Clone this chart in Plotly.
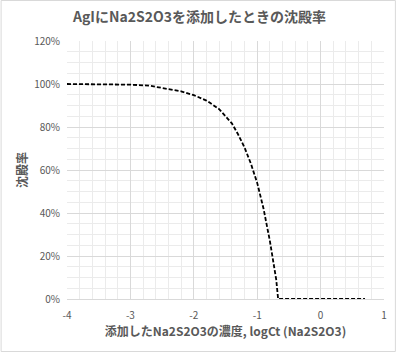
import plotly.graph_objects as go

# Data
log_ct = [-4.0, -3.5, -3.0, -2.7, -2.4, -2.2, -2.0, -1.8, -1.6, -1.4, -1.3, -1.2,
          -1.1, -1.0, -0.9, -0.8, -0.7, -0.67, -0.5, -0.3, -0.1, 0.1, 0.3, 0.5, 0.7]
precip = [1.000, 0.999, 0.997, 0.992, 0.978, 0.966, 0.948, 0.923, 0.883, 0.817, 0.765, 0.705,
          0.630, 0.540, 0.420, 0.270, 0.090, 0.0, 0.0, 0.0, 0.0, 0.0, 0.0, 0.0, 0.0]

x_tick_vals = [-4, -3, -2, -1, 0, 1]
x_tick_text = ["-4", "-3", "-2", "-1", "0", "1"]
y_tick_vals = [0, 0.2, 0.4, 0.6, 0.8, 1.0, 1.2]
y_tick_text = ["0%", "20%", "40%", "60%", "80%", "100%", "120%"]

title_text = "AgIにNa2S2O3を添加したときの沈殿率"
x_title = "添加したNa2S2O3の濃度, logCt (Na2S2O3)"
y_title = "沈殿率"

FONT = "Noto Sans CJK JP"
GRAY = "#595959"

fig = go.Figure()
fig.add_trace(go.Scatter(
    x=log_ct, y=precip, mode="lines",
    line=dict(color="black", width=1.8, dash="4px,2px"),
    hoverinfo="skip", showlegend=False,
))

fig.update_layout(
    width=399, height=352,
    margin=dict(l=67, r=12, t=41, b=53),
    paper_bgcolor="white", plot_bgcolor="white",
    font=dict(family=FONT, color=GRAY, size=10),
    title=dict(text="<b>" + title_text + "</b>", x=0.5, xanchor="center",
               y=1 - 17 / 352, yanchor="middle",
               font=dict(family=FONT, size=14, color=GRAY)),
    showlegend=False,
)

fig.update_xaxes(
    range=[-4, 1], tickvals=x_tick_vals, ticktext=x_tick_text,
    showgrid=True, gridcolor="#d9d9d9", gridwidth=1,
    minor=dict(dtick=0.2, tick0=-4, showgrid=True, gridcolor="#ebebeb", gridwidth=1),
    zeroline=False, showline=True, linecolor="#d9d9d9", linewidth=1, mirror=False,
    ticks="", tickfont=dict(size=10, color=GRAY), ticklabelstandoff=7,
    title=dict(text="<b>" + x_title + "</b>", standoff=3,
               font=dict(family=FONT, size=12, color=GRAY)),
)
fig.update_yaxes(
    range=[0, 1.2], tickvals=y_tick_vals, ticktext=y_tick_text,
    showgrid=True, gridcolor="#d9d9d9", gridwidth=1,
    minor=dict(dtick=0.05, tick0=0, showgrid=True, gridcolor="#ebebeb", gridwidth=1),
    zeroline=False, showline=False, ticks="",
    tickfont=dict(size=10, color=GRAY), ticklabelstandoff=6,
    title=dict(text="<b>" + y_title + "</b>", standoff=3,
               font=dict(family=FONT, size=12, color=GRAY)),
)

# chart-area border
fig.add_shape(type="rect", xref="paper", yref="paper",
              x0=(0.5 - 67) / 320, x1=(398.5 - 67) / 320,
              y0=(299 - 351.5) / 258, y1=(299 - 0.5) / 258,
              line=dict(color="#d9d9d9", width=1), layer="below")

fig.write_html("out.html")
